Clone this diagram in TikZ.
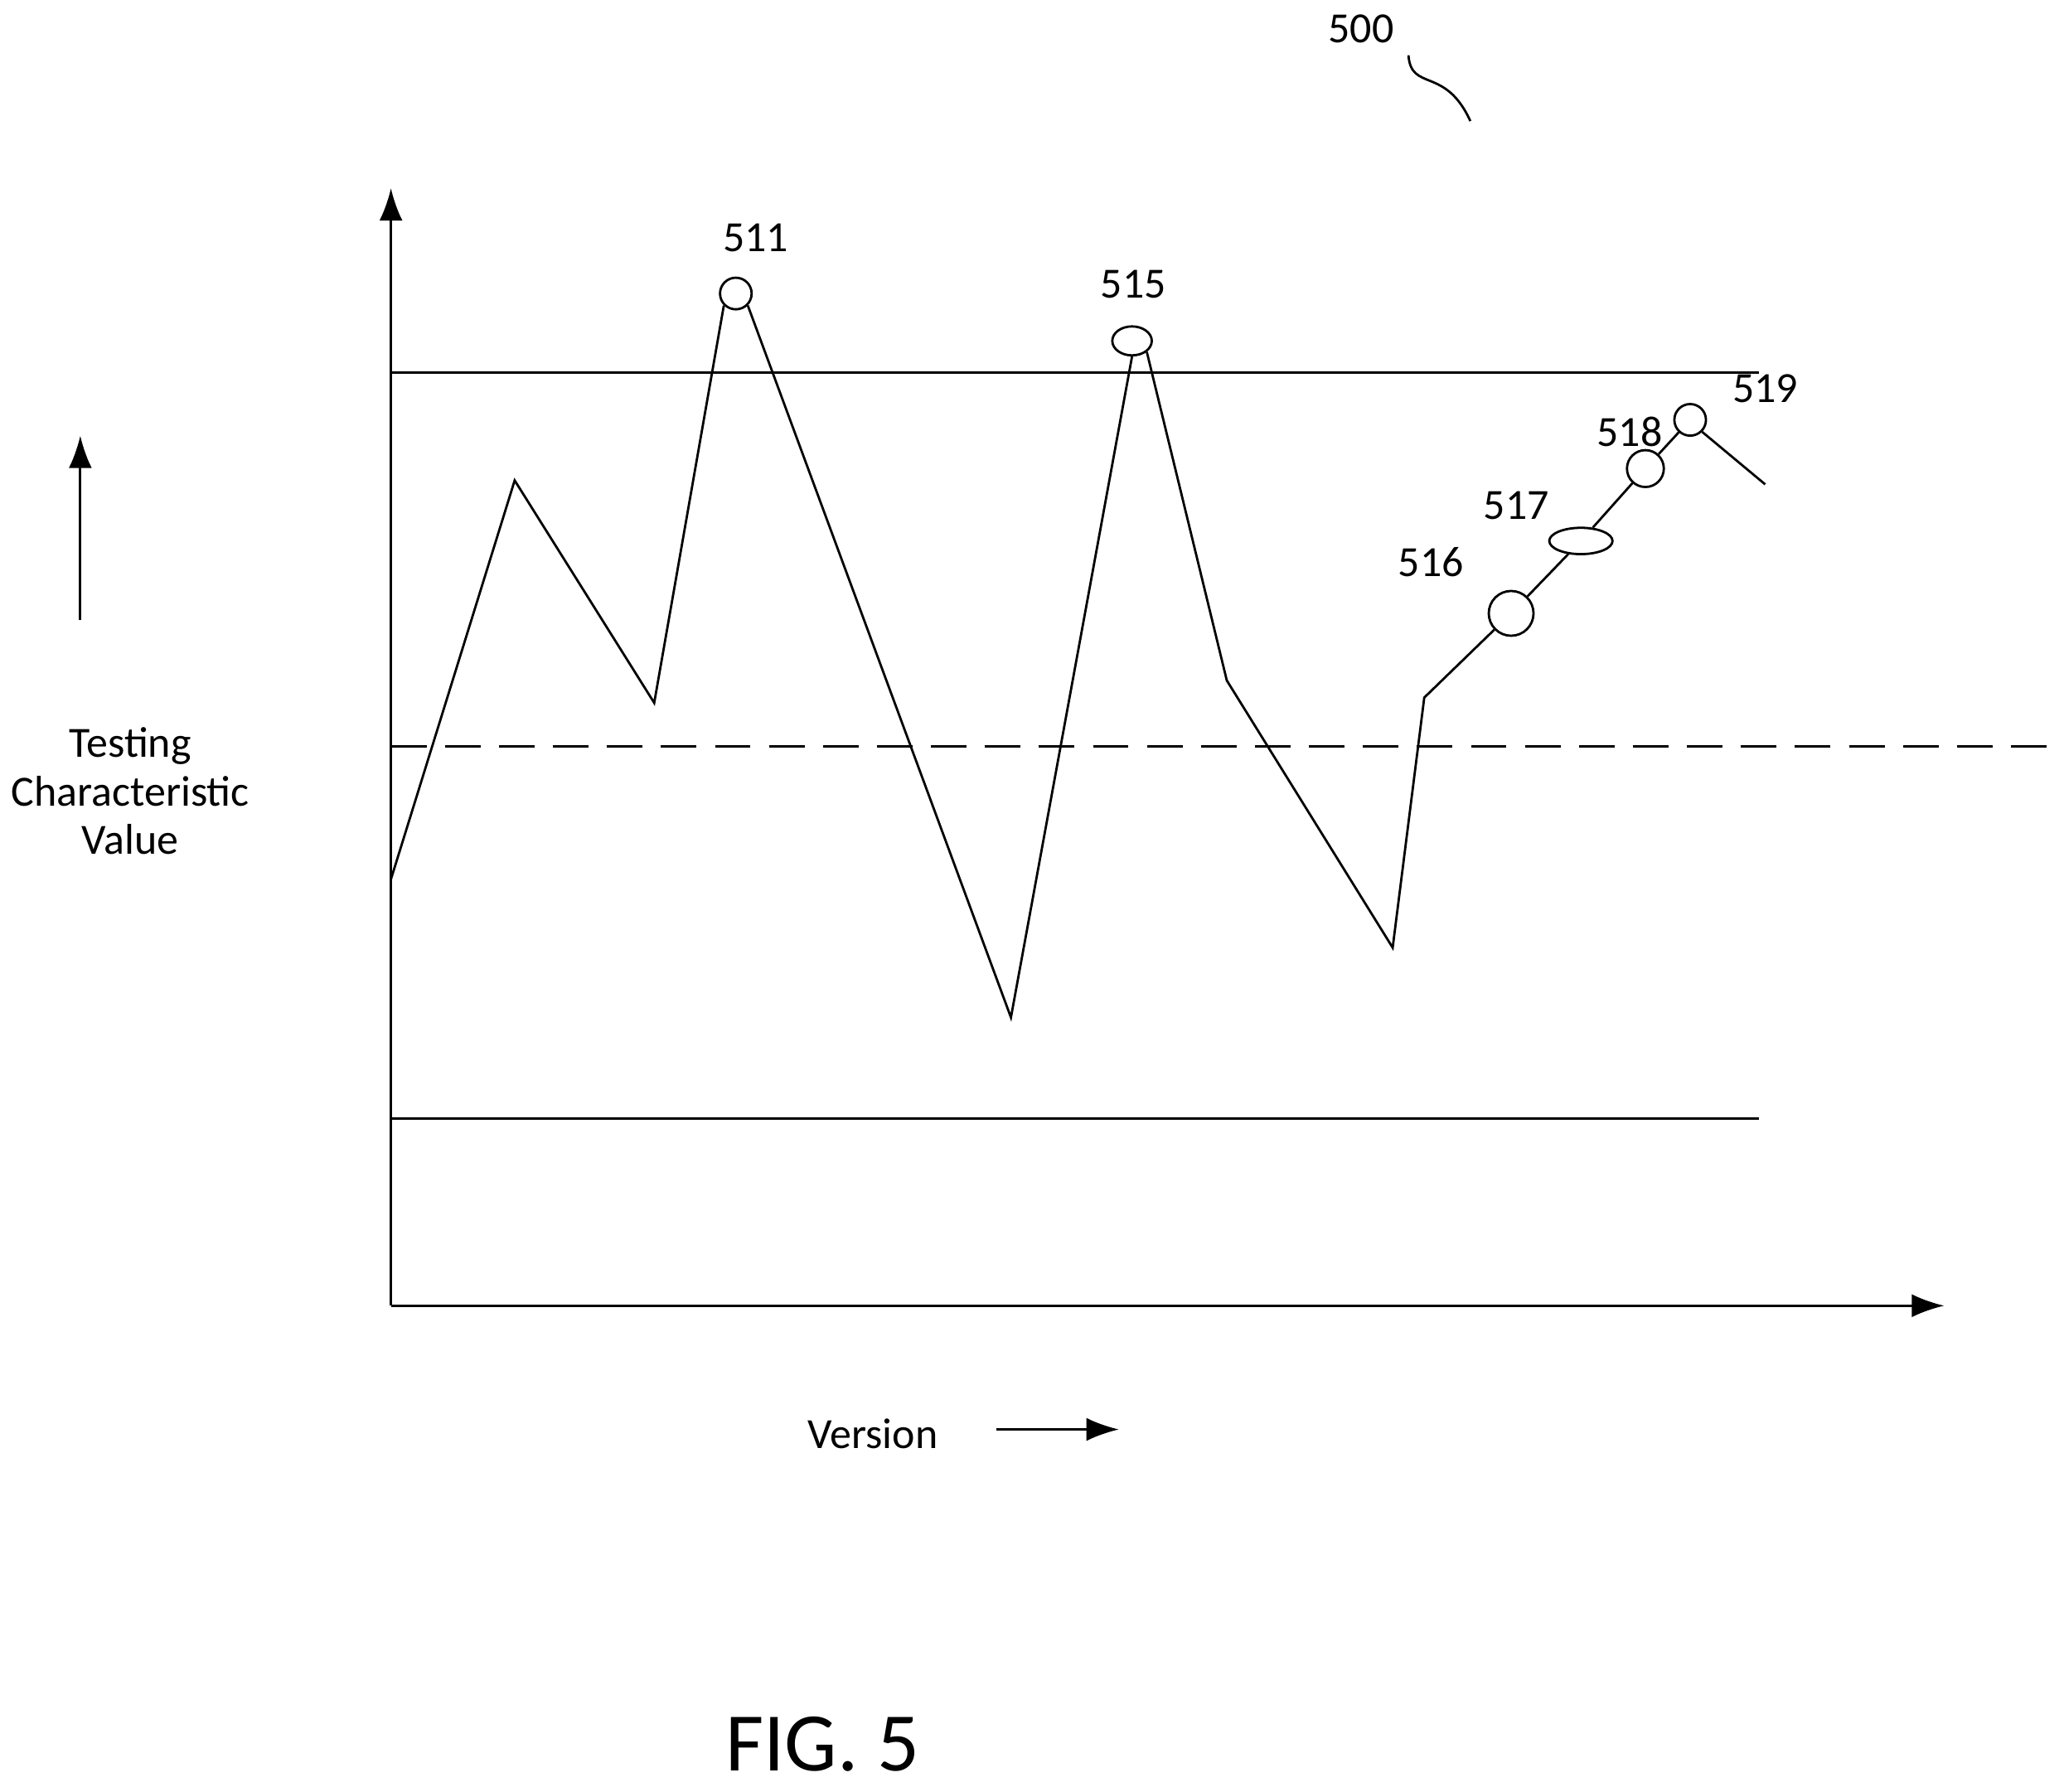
\documentclass[tikz,border=0pt]{standalone}
\usepackage{fontspec}
\setmainfont{Carlito}
\usetikzlibrary{arrows.meta,shapes.geometric}

\begin{document}
\begin{tikzpicture}[x=0.01cm,y=-0.01cm,line width=0.5pt,
  lbl/.style={font=\fontsize{9.3}{10.5}\selectfont},
  pt/.style={shape=circle,draw=black,inner sep=0pt},
  ept/.style={shape=ellipse,draw=black,inner sep=0pt},
  axis/.style={-{Latex[length=7pt,width=5pt]}}]
\useasboundingbox (0,0) rectangle (1568,1361);
% axes and limits
\coordinate (O) at (297,992);
\draw[axis] (O) -- (297,143);
\draw[axis] (O) -- (1477,992);
\draw (297,283) -- (1336,283);
\draw (297,850) -- (1336,850);
\draw[dash pattern=on 0.27cm off 0.14cm] (297,567) -- (1555,567);
% data points
\node[pt,minimum size=0.24cm] (P511) at (559,223) {};
\node[ept,minimum width=0.30cm,minimum height=0.22cm] (P515) at (860,259) {};
\node[pt,minimum size=0.34cm] (P516) at (1148,466) {};
\node[ept,minimum width=0.48cm,minimum height=0.20cm] (P517) at (1201,411) {};
\node[pt,minimum size=0.28cm] (P518) at (1250,356) {};
\node[pt,minimum size=0.24cm] (P519) at (1284,319) {};
\coordinate (end) at (1341,368);
\draw (297,668) -- (391,365) -- (497,534) -- (P511.south west);
\draw (P511.south east) -- (768,773) -- (P515.south);
\draw (P515.south east) -- (932,517) -- (1058,720) -- (1082,530) -- (P516);
\draw (P516) -- (P517);
\draw (P517) -- (P518);
\draw (P518) -- (P519);
\draw (P519.south east) -- (end);
% labels
\node[lbl] (L511) at (574,181) {511};
\node[lbl] (L515) at (861,216) {515};
\node[lbl] (L516) at (1087,427) {516};
\node[lbl] (L517) at (1152,384) {517};
\node[lbl] (L518) at (1238,328) {518};
\node[lbl] (L519) at (1341,295) {519};
\node[lbl] (L500) at (1034,22) {500};
\draw (1070,42) .. controls (1072,70) and (1098,50) .. (1117,92);
% axis captions
\draw[axis] (61,471) -- (61,331);
\node[lbl,align=center] (ylab) at (99,601) {Testing\\Characteristic\\Value};
\node[lbl] (xlab) at (663,1089) {Version};
\draw[-{Latex[length=7pt,width=5pt]}] (757,1086) -- (850,1086);
\node[font=\fontsize{18}{20}\selectfont] (fig) at (625,1325) {FIG. 5};
\end{tikzpicture}
\end{document}
